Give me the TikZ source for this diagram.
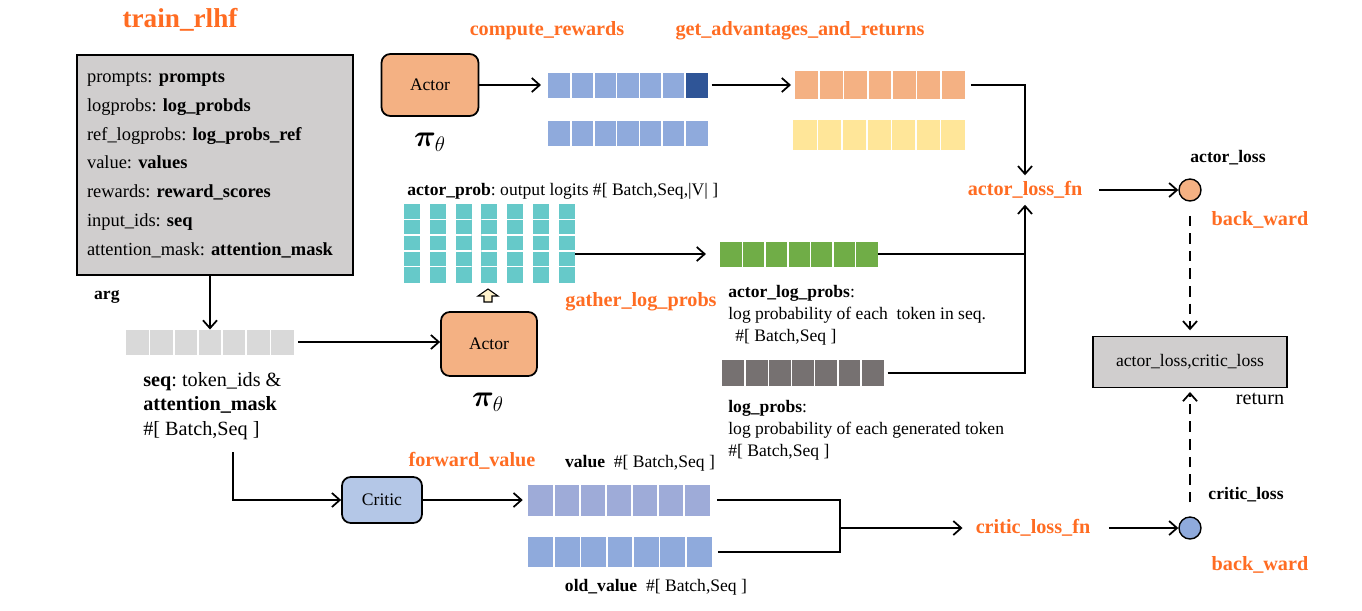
\documentclass[tikz,border=0pt]{standalone}
\usepackage{fontspec}
\setmainfont{Liberation Serif}
\usepackage{bm}
\usetikzlibrary{calc,arrows.meta}
\frenchspacing
\definecolor{argsgray}{HTML}{D0CECE}
\definecolor{actorfill}{HTML}{F4B183}
\definecolor{criticfill}{HTML}{B4C7E7}
\definecolor{tokblue}{HTML}{8FAADC}
\definecolor{tokdark}{HTML}{2F5597}
\definecolor{tokorange}{HTML}{F4B183}
\definecolor{tokyellow}{HTML}{FFE699}
\definecolor{tokteal}{HTML}{66C9C9}
\definecolor{tokgreen}{HTML}{70AD47}
\definecolor{tokdgray}{HTML}{767171}
\definecolor{toklgray}{HTML}{D9D9D9}
\definecolor{tokvalue}{HTML}{9EABD8}
\definecolor{fnorange}{HTML}{FF6C22}
\definecolor{hintyellow}{HTML}{FFF2CC}
\tikzset{
  model/.style={draw, line width=1pt, rounded corners=5pt, inner sep=0pt, font=\fontsize{10}{12}\selectfont},
  tokens/.style={fill=#1, inner sep=0pt, outer sep=0pt, path picture={
      \foreach \k in {1,...,6}
        \draw[white, line width=0.9pt] ($(path picture bounding box.south west)!\k/7!(path picture bounding box.south east)$) -- ($(path picture bounding box.north west)!\k/7!(path picture bounding box.north east)$);}},
  logitcol/.style={fill=tokteal, inner sep=0pt, outer sep=0pt, minimum width=0.32cm, minimum height=1.58cm, path picture={
      \foreach \k in {1,...,4}
        \draw[white, line width=0.9pt] ($(path picture bounding box.south west)!\k/5!(path picture bounding box.north west)$) -- ($(path picture bounding box.south east)!\k/5!(path picture bounding box.north east)$);}},
  fnlabel/.style={text=fnorange, font=\fontsize{11.5}{13}\selectfont\bfseries},
  txt/.style={inner sep=0pt, align=left, font=\fontsize{10}{12.5}\selectfont},
  smallbf/.style={font=\fontsize{10}{12}\selectfont\bfseries},
  loss/.style={draw, line width=0.8pt, circle, minimum size=0.44cm, inner sep=0pt},
  link/.style={line width=1pt},
  flow/.style={->, line width=1pt},
  back/.style={->, line width=1pt, dash pattern=on 6pt off 4pt}
}
\begin{document}
\begin{tikzpicture}[x=0.02cm, y=-0.02cm, >={Straight Barb[length=4.5pt,width=8pt]}]
\useasboundingbox (0,0) rectangle (1362,610);

\node[fnlabel, font=\fontsize{15.5}{18}\selectfont\bfseries] (title) at (180,20) {train\_rlhf};
\node[draw, line width=1.1pt, fill=argsgray, minimum width=5.52cm, minimum height=4.4cm, text width=5.12cm, inner xsep=0.2cm, align=left, font=\fontsize{10.5}{16.4}\selectfont] (args) at (215,165)
  {prompts: \textbf{prompts}\\ logprobs: \textbf{log\_probds}\\ ref\_logprobs: \textbf{log\_probs\_ref}\\ value: \textbf{values}\\ rewards: \textbf{reward\_scores}\\ input\_ids: \textbf{seq}\\ attention\_mask: \textbf{attention\_mask}};
\node[smallbf, anchor=west] (arg) at (88,297) {arg};
\node[tokens=toklgray, minimum width=3.38cm, minimum height=0.5cm] (seq) at (210,342) {};
\node[txt, anchor=west, font=\fontsize{11.5}{13.9}\selectfont] (seqtxt) at (143,406) {\textbf{seq}: token\_ids \&\\ \textbf{attention\_mask}\\ \#[ Batch,Seq ]};
\coordinate (seqdrop) at (233,452);

\node[model, fill=actorfill, minimum width=1.94cm, minimum height=1.24cm] (actor1) at (430,85) {Actor};
\node (pi1) at (430,142) {\LARGE$\bm{\pi}_{\theta}$};
\node[fnlabel] (comprew) at (547,31) {compute\_rewards};
\node[tokens=tokblue, minimum width=3.2cm, minimum height=0.5cm] (rew) at (628,85) {};
\fill[tokdark] ($(rew.south west)!6/7!(rew.south east)+(0.5pt,0)$) rectangle (rew.north east);
\node[tokens=tokblue, minimum width=3.2cm, minimum height=0.5cm] (rew2) at (628,133) {};
\node[fnlabel] (getadv) at (800,31) {get\_advantages\_and\_returns};
\node[tokens=tokorange, minimum width=3.42cm, minimum height=0.56cm] (adv) at (880,85) {};
\node[tokens=tokyellow, minimum width=3.44cm, minimum height=0.6cm] (rets) at (879,135) {};

\node[txt, anchor=west] (problbl) at (407,191) {\textbf{actor\_prob}: output logits \#[ Batch,Seq,|V| ]};
\foreach \i in {0,...,6}
  \node[logitcol] (lg\i) at (412+\i*25.8,243) {};
\coordinate (hint) at (488,296);
\draw[fill=hintyellow, line width=0.6pt] ($(hint)+(-4,6)$) -- ++(0,-6) -- ++(-6,0) -- ++(10,-7) -- ++(10,7) -- ++(-6,0) -- ++(0,6) -- cycle;
\node[model, fill=actorfill, minimum width=1.92cm, minimum height=1.28cm] (actor2) at (489,344) {Actor};
\node (pi2) at (488,402) {\LARGE$\bm{\pi}_{\theta}$};
\node[fnlabel] (gather) at (641,302) {gather\_log\_probs};

\node[tokens=tokgreen, minimum width=3.16cm, minimum height=0.5cm] (alp) at (799,254) {};
\node[txt, anchor=west] (alptxt) at (728,315) {\textbf{actor\_log\_probs}:\\ log probability of each\ \ token in seq.\\ \hspace*{4pt}\#[ Batch,Seq ]};
\node[tokens=tokdgray, minimum width=3.24cm, minimum height=0.52cm] (lp) at (803,373) {};
\node[txt, anchor=west] (lptxt) at (728,430) {\textbf{log\_probs}:\\ log probability of each generated token\\ \#[ Batch,Seq ]};

\node[model, fill=criticfill, minimum width=1.6cm, minimum height=0.92cm] (critic) at (382,500) {Critic};
\node[fnlabel] (fwd) at (472,461) {forward\_value};
\node[txt] (vallbl) at (640,463) {\textbf{value}\ \ \#[ Batch,Seq ]};
\node[tokens=tokvalue, minimum width=3.64cm, minimum height=0.62cm] (val) at (619,500) {};
\node[tokens=tokblue, minimum width=3.7cm, minimum height=0.6cm] (oldval) at (620,552) {};
\node[txt] (oldlbl) at (656,587) {\textbf{old\_value}\ \ \#[ Batch,Seq ]};
\coordinate (join) at (840,528);

\node[fnlabel] (alfn) at (1025,190) {actor\_loss\_fn};
\node[loss, fill=actorfill] (aloss) at (1190,190) {};
\node[smallbf] (alosslbl) at (1228,158) {actor\_loss};
\node[fnlabel] (bw1) at (1260,220) {back\_ward};
\node[draw, line width=1.1pt, fill=argsgray, minimum width=3.88cm, minimum height=1.02cm, font=\fontsize{10}{12}\selectfont] (result) at (1190,362) {actor\_loss,critic\_loss};
\node[font=\fontsize{11.5}{13}\selectfont] (retlbl) at (1260,399) {return};
\node[fnlabel] (clfn) at (1033,528) {critic\_loss\_fn};
\node[loss, fill=tokblue] (closs) at (1190,528) {};
\node[smallbf] (closslbl) at (1246,495) {critic\_loss};
\node[fnlabel] (bw2) at (1260,565) {back\_ward};

\draw[flow, shorten >=4pt] (actor1.east) to (rew.west);
\draw[flow, shorten <=2pt, shorten >=2pt] (rew.east) to (adv.west);
\draw[flow, shorten <=3pt] (adv.east) -| (alfn.north);
\draw[link] (alp.east) -- (alp.east -| alfn.south);
\draw[flow, shorten <=2pt] (lp.east) -| (alfn.south);
\draw[flow, shorten >=8pt] (lg6.east |- alp.west) to (alp.west);
\draw[flow] (args.south -| seq.north) to (seq.north);
\draw[flow, shorten <=2pt] (seq.east) to (seq.east -| actor2.west);
\draw[flow] (seqdrop) |- (critic.west);
\draw[flow, shorten >=3pt] (critic.east) to (val.west);
\draw[link, shorten <=4pt] (val.east) -| (join);
\draw[link, shorten <=3pt] (oldval.east) -| (join);
\draw[flow, shorten >=4pt] (join) to (clfn.west);
\draw[flow, shorten <=6pt] (alfn.east) to (aloss.west);
\draw[flow, shorten <=7pt] (clfn.east) to (closs.west);
\draw[back, shorten <=8pt, shorten >=3pt] (aloss.south) to (result.north);
\draw[back, shorten <=8pt, shorten >=2pt] (closs.north) to (result.south);
\end{tikzpicture}
\end{document}
